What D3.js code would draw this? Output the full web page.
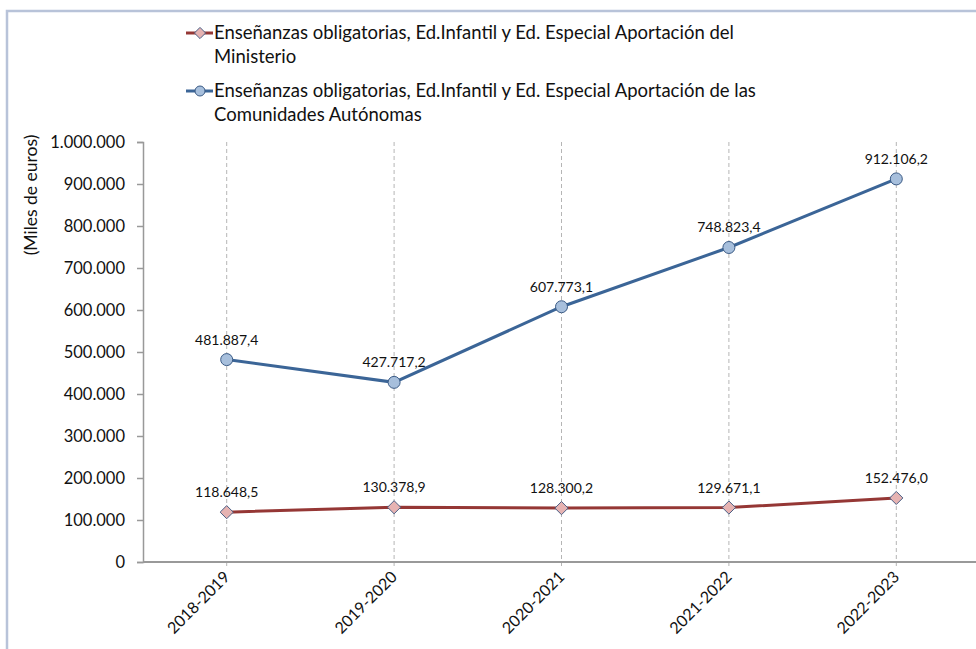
<!DOCTYPE html>
<html>
<head>
<meta charset="utf-8">
<script src="https://cdn.jsdelivr.net/npm/d3@7"></script>
<style>
  body { margin: 0; background: #fff; }
  text { font-family: Lato, "Open Sans", sans-serif; fill: #111; }
</style>
</head>
<body>
<div id="plot"></div>
<script>
// Data
var categories = ["2018-2019", "2019-2020", "2020-2021", "2021-2022", "2022-2023"];
var ministerio = [118648.5, 130378.9, 128300.2, 129671.1, 152476.0];
var comunidades = [481887.4, 427717.2, 607773.1, 748823.4, 912106.2];
var yTicks = [0, 100000, 200000, 300000, 400000, 500000, 600000, 700000, 800000, 900000, 1000000];
var legendLines = [
  ["Enseñanzas obligatorias, Ed.Infantil y Ed. Especial Aportación del", "Ministerio"],
  ["Enseñanzas obligatorias, Ed.Infantil y Ed. Especial Aportación de las", "Comunidades Autónomas"]
];

var svgWidth = 976;
var svgHeight = 649;

var svg = d3.select("#plot")
  .append("svg")
  .attr("width", svgWidth)
  .attr("height", svgHeight);

// outer frame (only top and left are visible)
svg.append("path")
  .attr("d", "M7,649 V11 H976")
  .attr("fill", "none")
  .attr("stroke", "#b8c3d9")
  .attr("stroke-width", 2.5);

// number formats (Spanish style)
var es = d3.formatLocale({ decimal: ",", thousands: ".", grouping: [3], currency: ["", "€"] });
var fmtTick = es.format(",.0f");
var fmtVal = es.format(",.1f");

// scales
var x = d3.scalePoint()
  .domain(categories)
  .range([143, 980])
  .padding(0.5);

var y = d3.scaleLinear()
  .domain([0, 1000000])
  .range([562, 142]);

// vertical dashed gridlines at categories
svg.append("g")
  .selectAll("line")
  .data(categories)
  .enter()
  .append("line")
  .attr("x1", d => x(d))
  .attr("x2", d => x(d))
  .attr("y1", y(1000000))
  .attr("y2", y(0) + 6)
  .attr("stroke", "#b5b5b5")
  .attr("stroke-width", 1)
  .attr("stroke-dasharray", "4,3");

// left axis
var leftAxis = d3.axisLeft(y).tickValues(yTicks).tickFormat(fmtTick).tickSize(6).tickPadding(12);
var gy = svg.append("g")
  .attr("transform", "translate(143,0)")
  .call(leftAxis);
gy.select(".domain").attr("stroke", "#999").attr("stroke-width", 1.5);
gy.selectAll(".tick line").attr("stroke", "#999").attr("stroke-width", 1.5);
gy.selectAll("text").style("font-size", "16.5px").attr("fill", "#111");

// bottom axis line
svg.append("line")
  .attr("x1", 143)
  .attr("x2", 976)
  .attr("y1", y(0))
  .attr("y2", y(0))
  .attr("stroke", "#999")
  .attr("stroke-width", 2);

// x labels rotated
svg.append("g")
  .selectAll("text")
  .data(categories)
  .enter()
  .append("text")
  .attr("transform", d => "translate(" + (x(d) + 4) + "," + (y(0) + 16) + ") rotate(-45)")
  .style("text-anchor", "end")
  .style("font-size", "16px")
  .text(d => d);

// y label
svg.append("text")
  .attr("transform", "translate(37,195) rotate(-90)")
  .style("text-anchor", "middle")
  .style("font-size", "17.5px")
  .text("(Miles de euros)");

// lines
var drawLine = d3.line()
  .x((d, i) => x(categories[i]))
  .y(d => y(d));

svg.append("path")
  .attr("d", drawLine(ministerio))
  .attr("fill", "none")
  .attr("stroke", "#953735")
  .attr("stroke-width", 3);

svg.append("path")
  .attr("d", drawLine(comunidades))
  .attr("fill", "none")
  .attr("stroke", "#3b6597")
  .attr("stroke-width", 3);

// markers
var diamond = d3.symbol().type(d3.symbolDiamond2).size(110);
svg.append("g")
  .selectAll("path")
  .data(ministerio)
  .enter()
  .append("path")
  .attr("d", diamond)
  .attr("transform", (d, i) => "translate(" + x(categories[i]) + "," + y(d) + ")")
  .attr("fill", "#e6b3b2")
  .attr("stroke", "#4a5f85")
  .attr("stroke-width", 1);

svg.append("g")
  .selectAll("circle")
  .data(comunidades)
  .enter()
  .append("circle")
  .attr("cx", (d, i) => x(categories[i]))
  .attr("cy", d => y(d))
  .attr("r", 6)
  .attr("fill", "#a7bfdc")
  .attr("stroke", "#3a5a85")
  .attr("stroke-width", 1);

// data labels
function addLabels(values) {
  svg.append("g")
    .selectAll("text")
    .data(values)
    .enter()
    .append("text")
    .attr("x", (d, i) => x(categories[i]))
    .attr("y", d => y(d) - 15)
    .style("text-anchor", "middle")
    .style("font-size", "14px")
    .text(d => fmtVal(d));
}
addLabels(ministerio);
addLabels(comunidades);

// legend
var legend = svg.append("g");
var legendY = [33, 91];
var legendColors = ["#953735", "#3b6597"];

legendLines.forEach(function(lines, k) {
  var ly = legendY[k];
  legend.append("line")
    .attr("x1", 186).attr("x2", 213)
    .attr("y1", ly).attr("y2", ly)
    .attr("stroke", legendColors[k])
    .attr("stroke-width", 3);
  if (k === 0) {
    legend.append("path")
      .attr("d", d3.symbol().type(d3.symbolDiamond2).size(80))
      .attr("transform", "translate(200," + ly + ")")
      .attr("fill", "#e6b3b2")
      .attr("stroke", "#4a5f85");
  } else {
    legend.append("circle")
      .attr("cx", 200).attr("cy", ly).attr("r", 5)
      .attr("fill", "#a7bfdc")
      .attr("stroke", "#3a5a85");
  }
  lines.forEach(function(t, j) {
    legend.append("text")
      .attr("x", 214)
      .attr("y", ly + 6 + j * 23.5)
      .style("font-size", "18.5px")
      .text(t);
  });
});
</script>
</body>
</html>
